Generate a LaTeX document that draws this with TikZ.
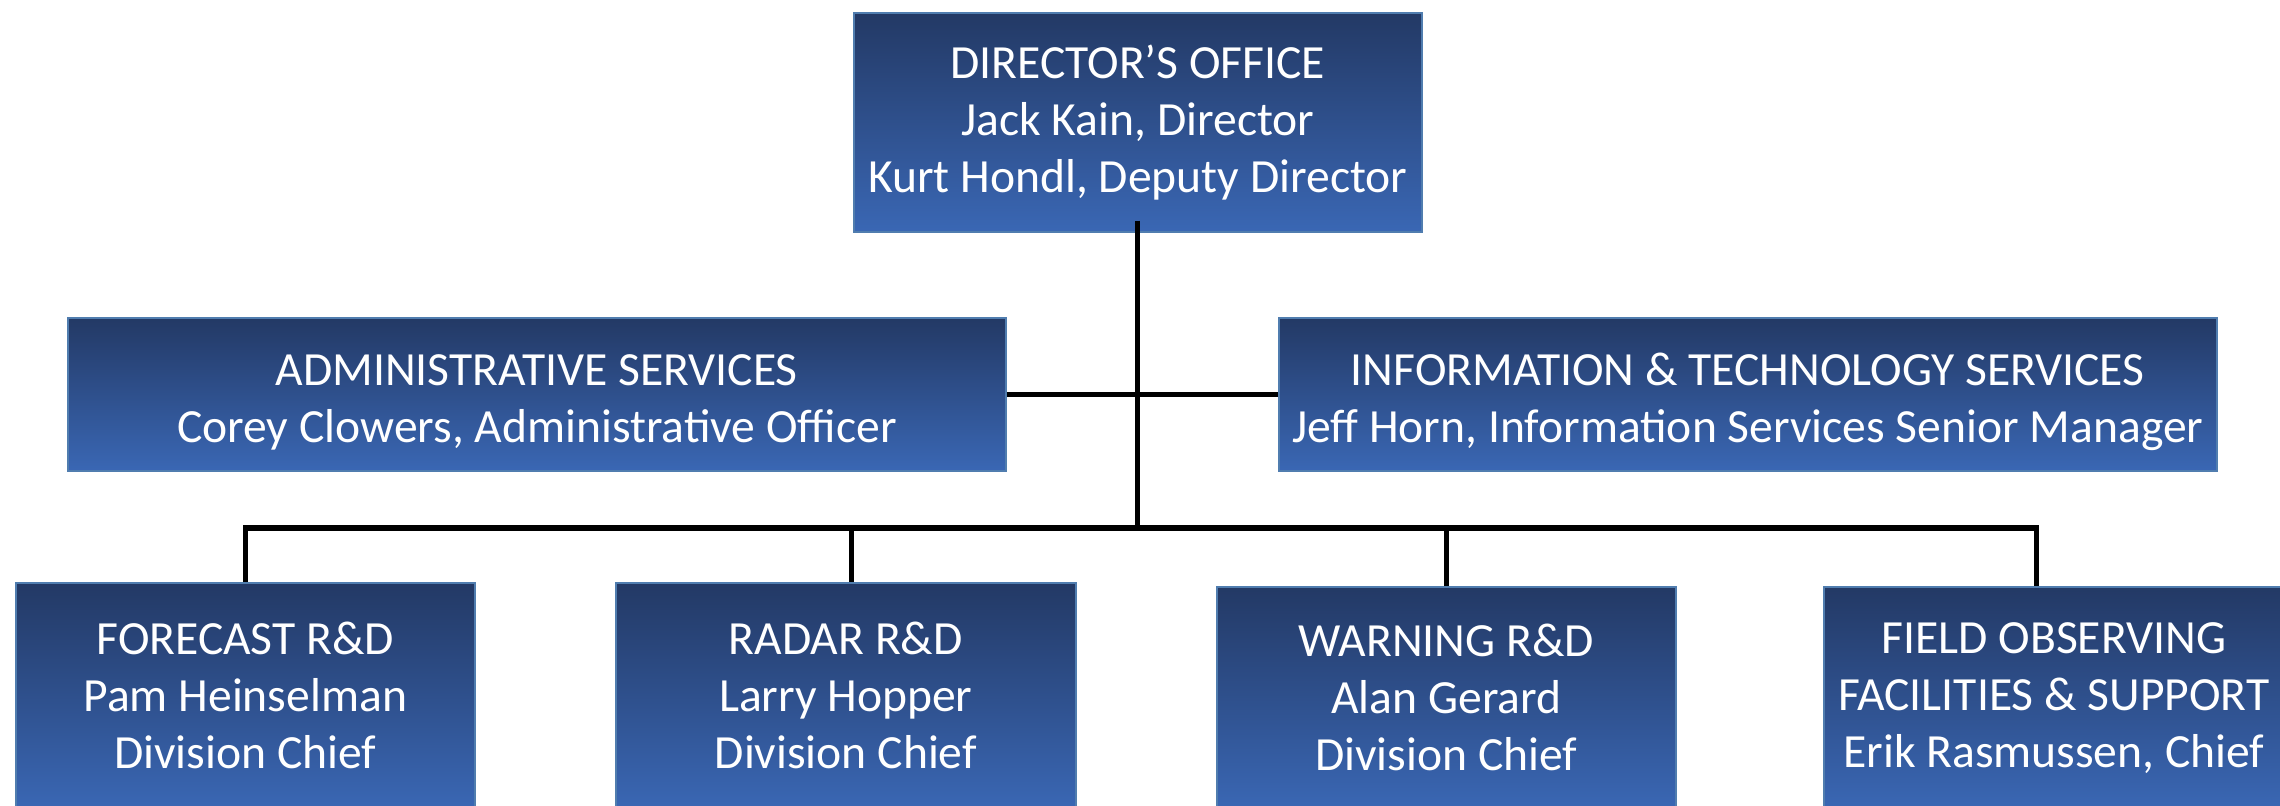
\documentclass[tikz,border=0pt]{standalone}
\usepackage{fontspec}
\setmainfont{Carlito}
\definecolor{boxtop}{RGB}{35,57,101}
\definecolor{boxbot}{RGB}{58,103,180}
\definecolor{boxedge}{RGB}{80,125,175}
\newcommand{\lowertext}[1]{\raisebox{-4.2pt}[\height][\depth]{\begin{tabular}{@{}c@{}}#1\end{tabular}}}
\begin{document}
\begin{tikzpicture}[x=0.5pt,y=-0.5pt,
  orgbox/.style={rectangle, anchor=north west, draw=boxedge, line width=0.8pt,
    top color=boxtop, bottom color=boxbot, text=white, align=center,
    font=\fontsize{23.8}{28.5}\selectfont, inner sep=0pt},
  link/.style={line width=2.6pt, draw=black}]
\useasboundingbox (0,0) rectangle (2280,805);
\node[orgbox, minimum width=284pt, minimum height=109.5pt] (dir) at (853,12)
  {DIRECTOR’S OFFICE\\Jack Kain, Director\\Kurt Hondl, Deputy Director};
\node[orgbox, minimum width=469pt, minimum height=76.5pt] (adm) at (67,317)
  {\lowertext{ADMINISTRATIVE SERVICES\\Corey Clowers, Administrative Officer}};
\node[orgbox, minimum width=469pt, minimum height=76.5pt] (its) at (1278,317)
  {\lowertext{INFORMATION \& TECHNOLOGY SERVICES\\Jeff Horn, Information Services Senior Manager}};
\node[orgbox, minimum width=229.5pt, minimum height=113pt] (fc) at (15,582)
  {FORECAST R\&D\\Pam Heinselman\\Division Chief};
\node[orgbox, minimum width=230pt, minimum height=113pt] (rd) at (615,582)
  {RADAR R\&D\\Larry Hopper\\Division Chief};
\node[orgbox, minimum width=229.5pt, minimum height=111pt] (wn) at (1216,586)
  {WARNING R\&D\\Alan Gerard\\Division Chief};
\node[orgbox, minimum width=230pt, minimum height=111pt] (fo) at (1823,586)
  {FIELD OBSERVING\\FACILITIES \& SUPPORT\\Erik Rasmussen, Chief};
\coordinate (bus) at (1139,528);
\draw[link] ([yshift=6pt]dir.south) -- (dir.south |- bus);
\draw[link] (adm.east) -- (its.west);
\draw[link] (fc.north) -- (fc.north |- bus) -- ([xshift=-8.5pt]fo.north |- bus) -- ([xshift=-8.5pt]fo.north);
\draw[link] ([xshift=3pt]rd.north) -- ([xshift=3pt]rd.north |- bus);
\draw[link] (wn.north) -- (wn.north |- bus);
\end{tikzpicture}
\end{document}
